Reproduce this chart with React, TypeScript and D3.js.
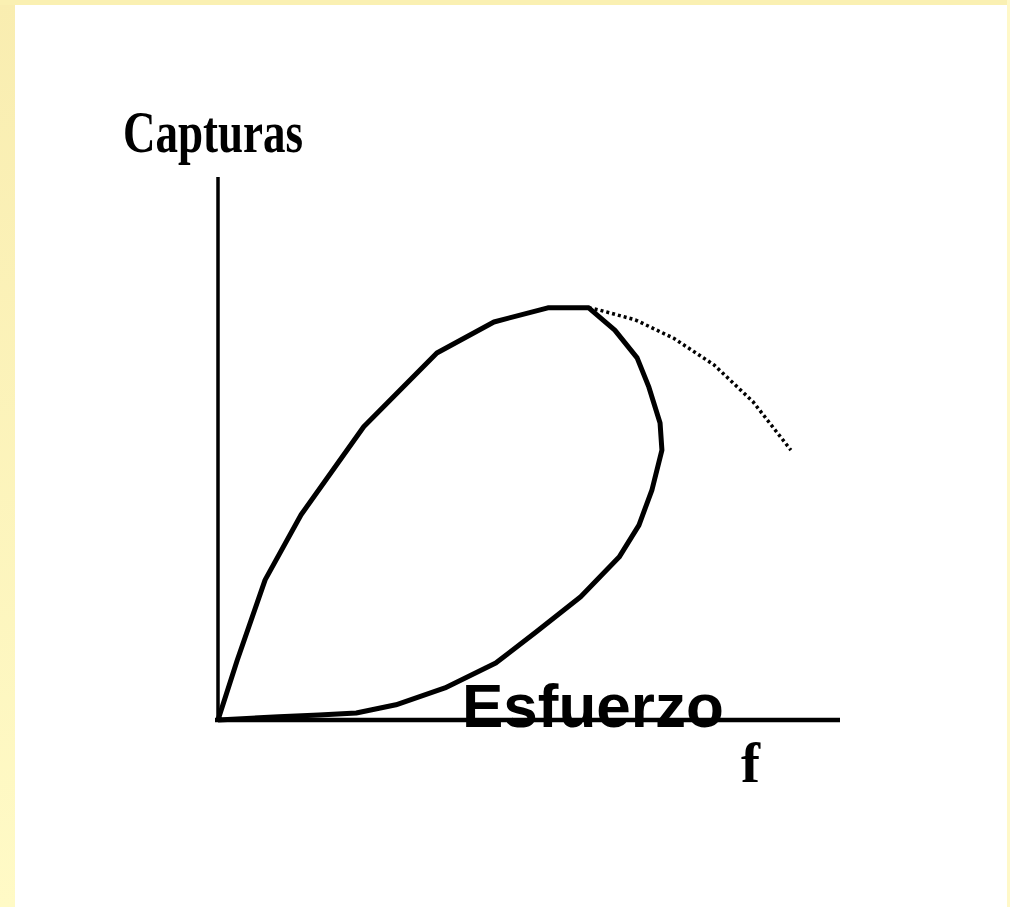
import * as d3 from "d3";
import React from "react";

// esfuerzo (f) vs capturas
const loopEffort = [0, 3.1, 7.6, 13.4, 23.5, 35.3, 44.5, 53.2, 59.8, 64.0, 67.6, 69.5, 71.3, 71.6, 70.0, 67.9, 64.7, 58.5, 51.3, 44.8, 36.6, 28.7, 22.3, 16.3, 9.8, 0];
const loopCatch = [0, 11.0, 25.8, 37.8, 54.0, 67.6, 73.3, 75.9, 75.9, 71.8, 66.7, 61.3, 54.7, 49.7, 42.4, 35.9, 30.0, 22.7, 16.2, 10.5, 5.9, 2.8, 1.3, 0.9, 0.6, 0];
const eqEffort = [59.8, 61.5, 67.3, 73.5, 80.0, 86.3, 92.4];
const eqCatch = [75.9, 75.5, 73.7, 70.3, 65.4, 58.6, 49.7];

const yLabel = "Capturas";
const xLabel = "f";
const midLabel = "Esfuerzo";

const W = 1010,
  H = 907;

export default function App() {
  const x = d3.scaleLinear().domain([0, 100]).range([218, 838]);
  const y = d3.scaleLinear().domain([0, 100]).range([720, 177]);

  const line = d3
    .line<[number, number]>()
    .x((d) => x(d[0]))
    .y((d) => y(d[1]))
    .curve(d3.curveLinear);

  const loop = loopEffort.map((e, i) => [e, loopCatch[i]] as [number, number]);
  const eq = eqEffort.map((e, i) => [e, eqCatch[i]] as [number, number]);

  return (
    <svg width={W} height={H} style={{ position: "absolute", left: 0, top: 0 }}>
      <defs>
        <linearGradient id="edge" x1="0" y1="0" x2="0" y2="1">
          <stop offset="0" stopColor="#f9edb0" />
          <stop offset="1" stopColor="#fffac6" />
        </linearGradient>
      </defs>
      <rect width={W} height={H} fill="#ffffff" />
      <rect x={0} y={0} width={15} height={H} fill="url(#edge)" />
      <rect x={0} y={0} width={W} height={5} fill="#faf0b2" />
      <rect x={1007} y={0} width={3} height={H} fill="#fff8c8" />

      {/* axes */}
      <line x1={x(0)} y1={y(0) + 2} x2={x(0)} y2={y(100)} stroke="#000" strokeWidth={3.5} />
      <line x1={x(0) - 3} y1={y(0)} x2={x(100) + 2} y2={y(0)} stroke="#000" strokeWidth={4.5} />

      <path d={line(loop) ?? ""} fill="none" stroke="#000" strokeWidth={5} strokeLinejoin="round" />
      <path d={line(eq) ?? ""} fill="none" stroke="#000" strokeWidth={3.5} strokeDasharray="3,3" />

      <text
        x={123}
        y={152}
        fontFamily="'Liberation Serif', 'Times New Roman', serif"
        fontWeight="bold"
        fontSize={59}
        textLength={180}
        lengthAdjust="spacingAndGlyphs"
      >
        {yLabel}
      </text>
      <text
        x={462}
        y={727}
        fontFamily="'Liberation Sans', Arial, sans-serif"
        fontWeight="bold"
        fontSize={62}
      >
        {midLabel}
      </text>
      <text
        x={741}
        y={782}
        fontFamily="'Liberation Serif', 'Times New Roman', serif"
        fontWeight="bold"
        fontSize={58}
        textLength={19}
        lengthAdjust="spacingAndGlyphs"
      >
        {xLabel}
      </text>
    </svg>
  );
}
